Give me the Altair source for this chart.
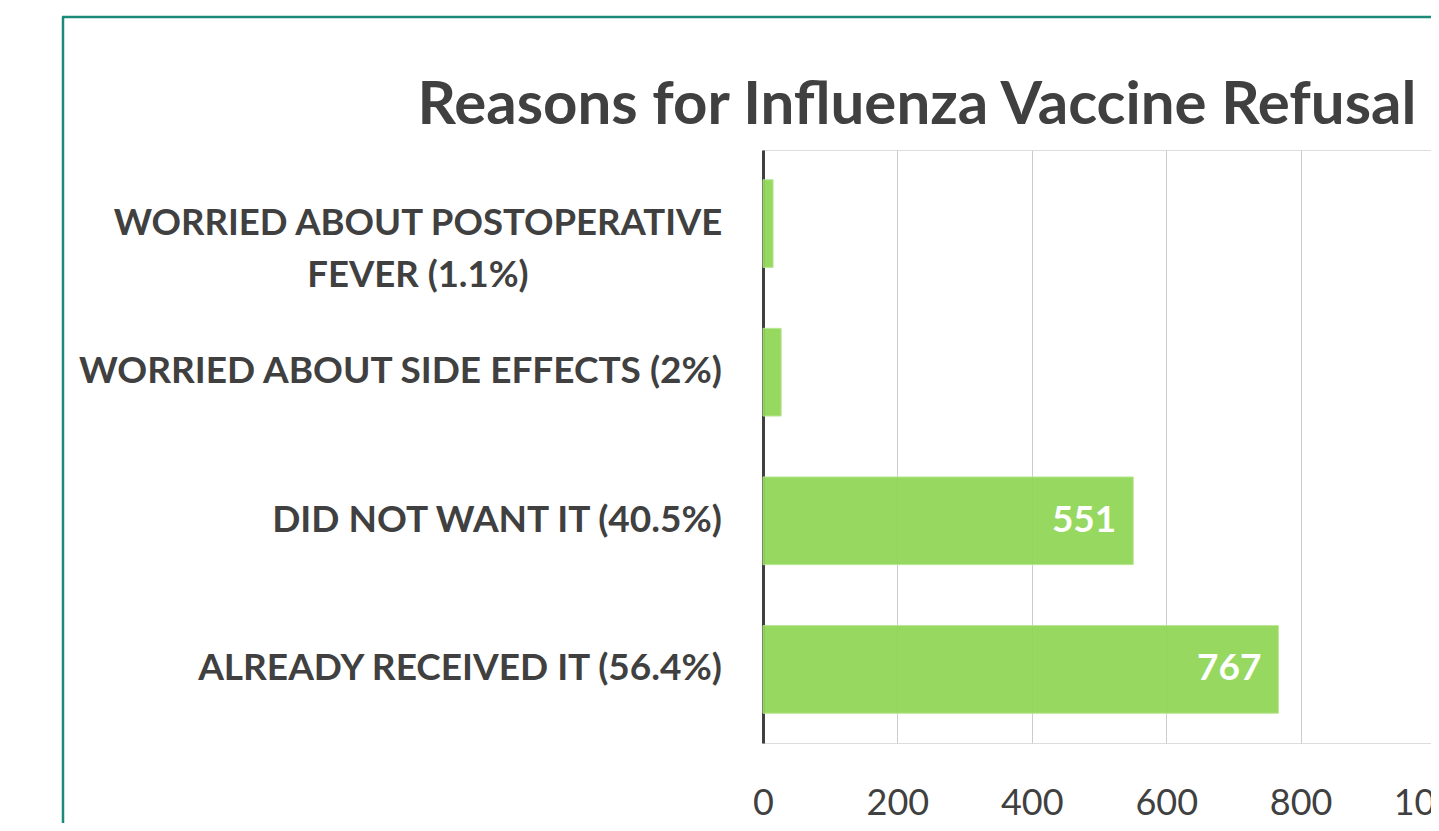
import altair as alt
import pandas as pd

reasons = [
    "WORRIED ABOUT POSTOPERATIVE FEVER (1.1%)",
    "WORRIED ABOUT SIDE EFFECTS (2%)",
    "DID NOT WANT IT (40.5%)",
    "ALREADY RECEIVED IT (56.4%)",
]
display_labels = [
    "WORRIED ABOUT POSTOPERATIVE\nFEVER (1.1%)",
    "WORRIED ABOUT SIDE EFFECTS (2%)",
    "DID NOT WANT IT (40.5%)",
    "ALREADY RECEIVED IT (56.4%)",
]
counts = [15, 27, 551, 767]
x_ticks = [0, 200, 400, 600, 800, 1000]

df = pd.DataFrame({
    "reason": reasons,
    "label": display_labels,
    "count": counts,
    "multiline": ["\n" in s for s in display_labels],
})

TXT = "#404040"
FONT = "Lato"

y_enc = alt.Y(
    "reason:N",
    sort=reasons,
    scale=alt.Scale(paddingInner=0.41, paddingOuter=0.2),
    axis=alt.Axis(labels=False, ticks=False, domain=True, domainColor=TXT,
                  domainWidth=3, title=None, grid=False),
)
x_enc = alt.X(
    "count:Q",
    scale=alt.Scale(domain=[0, 1000], range=[0, 672], nice=False, zero=True),
    axis=alt.Axis(values=x_ticks, format="d", grid=True, gridColor="#cccccc",
                  gridWidth=1, domain=False, ticks=False, labelFont=FONT,
                  labelFontSize=36, labelColor=TXT, labelPadding=43,
                  labelFlush=False, labelBound=False, labelOverlap=False,
                  title=None),
)

base = alt.Chart(df)

bars = base.mark_bar(color="#8fd653", opacity=0.92, stroke="#b4e58c",
                     strokeWidth=1).encode(x=x_enc, y=y_enc)

values = base.transform_filter("datum.count > 100").mark_text(
    align="right", baseline="middle", dx=-17, font=FONT, fontSize=37,
    fontWeight="bold", color="white",
).encode(x="count:Q", y=alt.Y("reason:N", sort=reasons), text="count:Q")

labels_single = base.transform_filter("!datum.multiline").mark_text(
    align="right", baseline="middle", font=FONT, fontSize=37,
    fontWeight="bold", color=TXT,
).encode(x=alt.value(-41), y=alt.Y("reason:N", sort=reasons), text="label:N")

labels_multi = base.transform_filter("datum.multiline").mark_text(
    align="center", baseline="middle", font=FONT, fontSize=36.5,
    fontWeight="bold", color=TXT, lineBreak="\n", lineHeight=52,
).encode(x=alt.value(-345), y=alt.Y("reason:N", sort=reasons), text="label:N")

frame_df = pd.DataFrame({"k": [0]})
frame_left = alt.Chart(frame_df).mark_rule(color="#1b8a78", strokeWidth=2.5).encode(
    x=alt.value(-700), y=alt.value(-133), y2=alt.value(1000))
frame_top = alt.Chart(frame_df).mark_rule(color="#1b8a78", strokeWidth=2.5).encode(
    y=alt.value(-133), x=alt.value(-701), x2=alt.value(1200))

chart = alt.layer(frame_left, frame_top, bars, values, labels_single, labels_multi).properties(
    width=668,
    height=593,
    title=alt.TitleParams(
        "Reasons for Influenza Vaccine Refusal", font=FONT, fontSize=60,
        fontWeight="bold", color=TXT, anchor="middle", dx=-180,
        baseline="alphabetic", offset=0, dy=168,
    ),
    autosize=alt.AutoSizeParams(type="none"),
    padding={"left": 755, "top": 142, "right": 0, "bottom": 80},
).configure_view(stroke=None).configure(background="white")

chart.save("out.html", embed_options={"renderer": "svg", "actions": False})
